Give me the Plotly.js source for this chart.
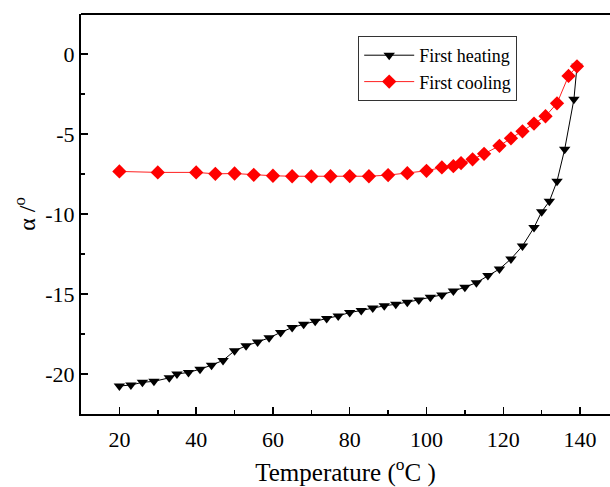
<!DOCTYPE html>
<html><head><meta charset="utf-8">
<script src="https://cdn.plot.ly/plotly-3.0.1.min.js"></script>
<style>html,body{margin:0;padding:0;overflow:hidden;background:#fff}</style>
</head><body><div id="chart" style="width:610px;height:487px"></div>
<script>
const heatT = [20, 23, 26, 29, 33, 35, 38, 41, 44, 47, 50, 53, 56, 59, 62, 65, 68, 71, 74, 77, 80, 83, 86, 89, 92, 95, 98, 101, 104, 107, 110, 113, 116, 119, 122, 125, 128, 130, 132, 134, 136, 138.4, 139.2];
const heatA = [-20.75, -20.69, -20.52, -20.46, -20.24, -20.0, -19.9, -19.7, -19.45, -19.15, -18.55, -18.24, -18.0, -17.74, -17.4, -17.1, -16.89, -16.7, -16.53, -16.37, -16.16, -16.03, -15.87, -15.74, -15.64, -15.51, -15.37, -15.2, -15.06, -14.81, -14.58, -14.29, -13.85, -13.44, -12.81, -12.0, -10.85, -9.86, -9.21, -7.95, -5.95, -2.83, -0.77];
const coolT = [20, 30, 40, 45, 50, 55, 60, 65, 70, 75, 80, 85, 90, 95, 100, 104, 107, 109, 112, 115, 119, 122, 125, 128, 131, 134, 137, 139.2];
const coolA = [-7.34, -7.40, -7.40, -7.49, -7.47, -7.55, -7.61, -7.64, -7.65, -7.64, -7.63, -7.64, -7.57, -7.45, -7.30, -7.09, -7.01, -6.82, -6.58, -6.24, -5.74, -5.27, -4.83, -4.35, -3.89, -3.08, -1.37, -0.77];
const xTickVals = [20, 40, 60, 80, 100, 120, 140];
const xTickText = ['20', '40', '60', '80', '100', '120', '140'];
const yTickVals = [0, -5, -10, -15, -20];
const yTickText = ['0', '-5', '-10', '-15', '-20'];
const seriesNames = ['First heating', 'First cooling'];

const serif = 'Liberation Serif, Times New Roman, serif';
const traces = [
  {x: heatT, y: heatA, name: seriesNames[0], type: 'scatter', mode: 'lines+markers',
   line: {color: '#000000', width: 1}, marker: {symbol: 'triangle-down', size: 10, color: '#000000'}},
  {x: coolT, y: coolA, name: seriesNames[1], type: 'scatter', mode: 'lines+markers',
   line: {color: '#ff2020', width: 1}, marker: {symbol: 'diamond', size: 11, color: '#ff0000'}}
];
const layout = {
  width: 610, height: 487,
  margin: {l: 81, r: 0, t: 14, b: 73},
  paper_bgcolor: '#ffffff', plot_bgcolor: '#ffffff',
  font: {family: serif, color: '#000000'},
  showlegend: true,
  legend: {x: 0.524, y: 0.945, xanchor: 'left', yanchor: 'top', bordercolor: '#333333', borderwidth: 1,
           bgcolor: 'rgba(255,255,255,1)', font: {family: serif, size: 18, color: '#000'}, itemwidth: 50,
           tracegroupgap: 0},
  xaxis: {range: [10, 147.8], showgrid: false, zeroline: false, showline: true, linecolor: '#000', linewidth: 2,
          ticks: 'inside', ticklen: 7, tickwidth: 1.5, tickcolor: '#000', ticklabelstandoff: 5,
          tickvals: xTickVals, ticktext: xTickText, tickfont: {family: serif, size: 22, color: '#000'},
          minor: {dtick: 10, tick0: 0, ticks: 'inside', ticklen: 4, tickwidth: 1.5, tickcolor: '#000', showgrid: false},
          title: {text: 'Temperature (<sup>o</sup>C )', font: {family: serif, size: 25, color: '#000'}, standoff: 14}},
  yaxis: {range: [-22.5, 2.5], showgrid: false, zeroline: false, showline: true, linecolor: '#000', linewidth: 2,
          ticks: 'inside', ticklen: 7, tickwidth: 1.5, tickcolor: '#000',
          tickvals: yTickVals, ticktext: yTickText, tickfont: {family: serif, size: 22, color: '#000'},
          minor: {dtick: 2.5, tick0: 0, ticks: 'inside', ticklen: 4, tickwidth: 1.5, tickcolor: '#000', showgrid: false},
          title: {text: 'α /<sup>o</sup>', font: {family: serif, size: 24, color: '#000'}, standoff: 3}},
  shapes: [{type: 'line', xref: 'paper', yref: 'paper', x0: 0, x1: 1, y0: 1, y1: 1, line: {color: '#000', width: 2}}]
};
Plotly.newPlot('chart', traces, layout, {displayModeBar: false, staticPlot: true});
</script>
</body></html>
